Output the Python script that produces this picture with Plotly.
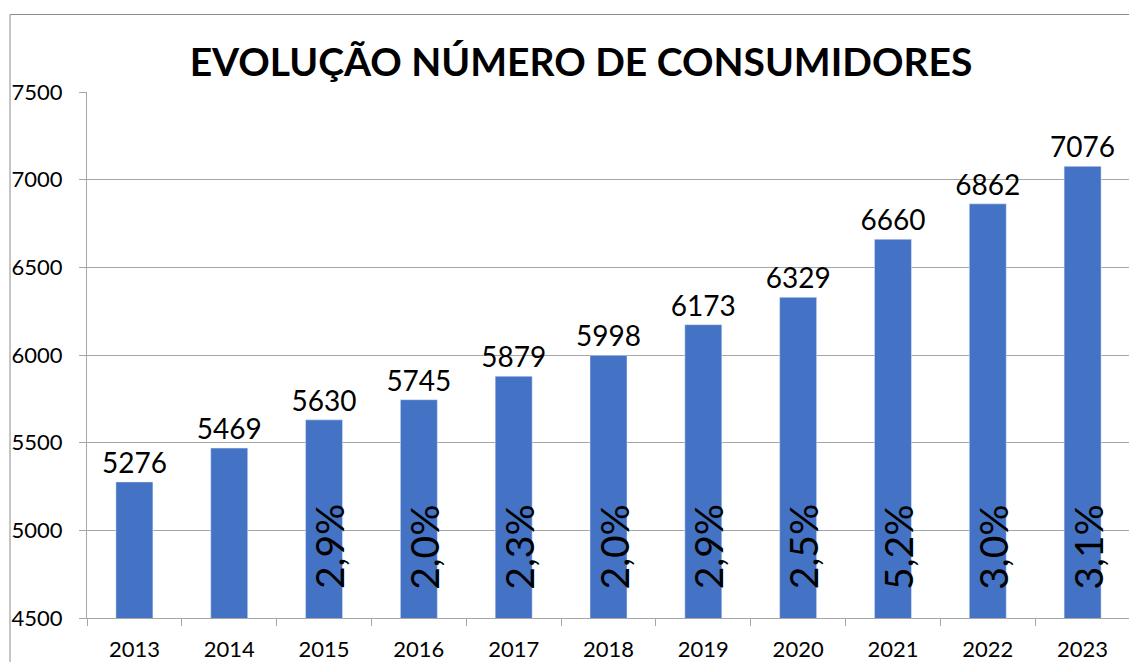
import plotly.graph_objects as go

years = ["2013", "2014", "2015", "2016", "2017", "2018", "2019", "2020", "2021", "2022", "2023"]
consumers = [5276, 5469, 5630, 5745, 5879, 5998, 6173, 6329, 6660, 6862, 7076]
growth_labels = ["", "", "2,9%", "2,0%", "2,3%", "2,0%", "2,9%", "2,5%", "5,2%", "3,0%", "3,1%"]
y_ticks = [4500, 5000, 5500, 6000, 6500, 7000, 7500]

W, H = 1137, 662
OFF = 8  # default page body margin
ML, MR, MT, MB = 87 - OFF, 1137 - (1130 - OFF), 92 - OFF, 662 - (618 - OFF)
pw, ph = W - ML - MR, H - MT - MB

fig = go.Figure()
fig.add_trace(go.Bar(
    x=years, y=consumers, marker_color="#4472C4", width=0.39,
    text=[str(v) for v in consumers], textposition="outside", constraintext="none",
    textfont=dict(family="Lato", size=28, color="#000000"),
    cliponaxis=False, hoverinfo="skip",
))

annotations = []
for i, lab in enumerate(growth_labels):
    if lab:
        annotations.append(dict(
            x=i, y=4905, xref="x", yref="y", text=lab, showarrow=False,
            textangle=-90, xanchor="center", yanchor="middle", xshift=5,
            font=dict(family="Lato", size=39, color="#000000"),
        ))

def px_to_paper_x(px):
    return (px - OFF - ML) / pw

def px_to_paper_y(py):
    return (H - MB - (py - OFF)) / ph

fig.add_shape(type="rect", xref="paper", yref="paper",
              x0=px_to_paper_x(10), x1=px_to_paper_x(1160),
              y0=px_to_paper_y(680), y1=px_to_paper_y(14.5),
              line=dict(color="#8c8c8c", width=1), fillcolor="rgba(0,0,0,0)", layer="below")

fig.update_layout(
    width=W, height=H,
    margin=dict(l=ML, r=MR, t=MT, b=MB, autoexpand=False),
    paper_bgcolor="white", plot_bgcolor="white",
    showlegend=False,
    title=dict(text="<b>EVOLUÇÃO NÚMERO DE CONSUMIDORES</b>", x=(581 - OFF) / W, xanchor="center",
               y=1 - (62 - OFF) / H, yanchor="middle",
               font=dict(family="Lato", size=39, color="#000000")),
    annotations=annotations,
    bargap=0.61,
)
fig.update_yaxes(
    range=[4500, 7500], tickvals=y_ticks, ticktext=[str(t) for t in y_ticks],
    showgrid=True, gridcolor="#a6a6a6", gridwidth=1,
    showline=True, linecolor="#a6a6a6", linewidth=1,
    ticks="outside", ticklen=7, tickcolor="#a6a6a6",
    ticklabelstandoff=12, automargin=False,
    tickfont=dict(family="Lato", size=22, color="#000000"),
    zeroline=False, fixedrange=True,
)
fig.update_xaxes(
    type="category", range=[-0.5, len(years) - 0.5],
    showline=True, linecolor="#a6a6a6", linewidth=1,
    ticks="outside", ticklen=7, tickcolor="#a6a6a6", tickson="boundaries",
    tickangle=0, automargin=False, ticklabelstandoff=12,
    tickfont=dict(family="Lato", size=22, color="#000000"),
    showgrid=False, fixedrange=True,
)

fig.write_html("out.html")
